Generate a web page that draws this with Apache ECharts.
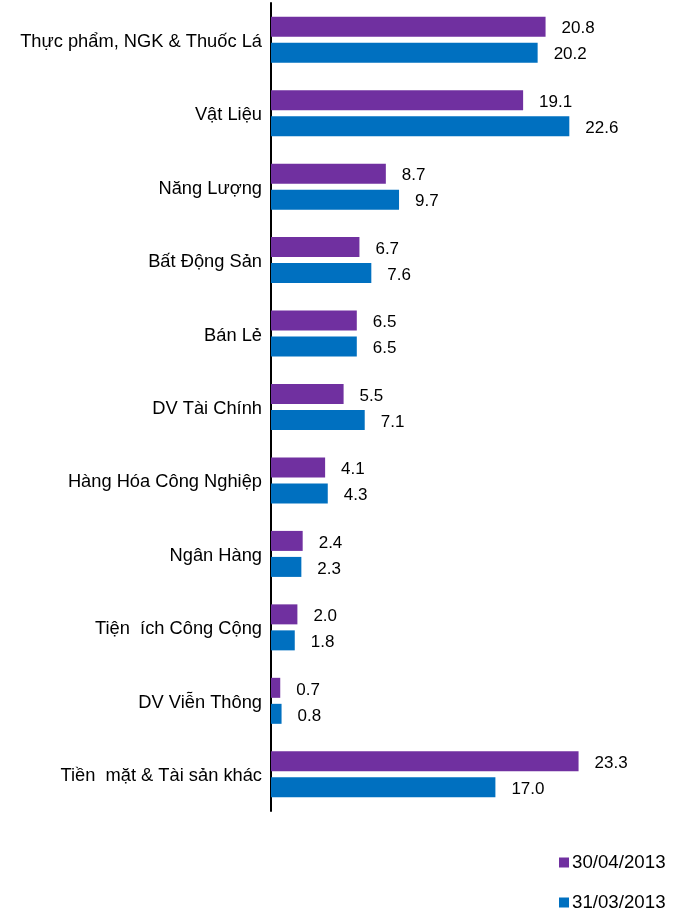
<!DOCTYPE html>
<html>
<head>
<meta charset="utf-8">
<script src="https://cdn.jsdelivr.net/npm/echarts@6/dist/echarts.min.js"></script>
<style>html,body{margin:0;padding:0;background:#fff;}#c{width:685px;height:913px;}</style>
</head>
<body>
<div id="c"></div>
<script>
const categories = ['Thực phẩm, NGK & Thuốc Lá','Vật Liệu','Năng Lượng','Bất Động Sản','Bán Lẻ','DV Tài Chính','Hàng Hóa Công Nghiệp','Ngân Hàng','Tiện  ích Công Cộng','DV Viễn Thông','Tiền  mặt & Tài sản khác'];
const seriesNames = ['30/04/2013','31/03/2013'];
const apr2013 = [20.8,19.1,8.7,6.7,6.5,5.5,4.1,2.4,2.0,0.7,23.3];
const mar2013 = [20.2,22.6,9.7,7.6,6.5,7.1,4.3,2.3,1.8,0.8,17.0];

const font = 'Liberation Sans, Arial, sans-serif';
const chart = echarts.init(document.getElementById('c'), null, {renderer:'canvas'});
const lbl = {show:true, position:'right', distance:16, offset:[0,2], color:'#000', fontSize:17, fontFamily:font, formatter: p => p.value.toFixed(1)};
const legendBase = {orient:'vertical', left:554, itemWidth:10, itemHeight:10, icon:'rect',
  textStyle:{fontSize:18.7, fontFamily:font, color:'#000', padding:[0,0,0,-2]}};
chart.setOption({
  animation:false,
  backgroundColor:'#fff',
  grid:{left:271, top:3, width:330, height:808},
  legend:[
    Object.assign({}, legendBase, {top:848, data:[seriesNames[0]]}),
    Object.assign({}, legendBase, {top:888, data:[seriesNames[1]]})
  ],
  xAxis:{type:'value', min:0, max:25, show:false},
  yAxis:{type:'category', data:categories, inverse:true,
    axisLine:{show:true, lineStyle:{color:'#000', width:2}},
    axisTick:{show:false},
    axisLabel:{fontSize:18.3, fontFamily:font, color:'#000', margin:9, verticalAlign:'top', lineHeight:4}
  },
  series:[
    {name:seriesNames[0], type:'bar', data:apr2013, barWidth:20, barGap:'30%', itemStyle:{color:'#7030A0'}, label:lbl},
    {name:seriesNames[1], type:'bar', data:mar2013, barWidth:20, barGap:'30%', itemStyle:{color:'#0070C0'}, label:lbl}
  ]
});
</script>
</body>
</html>
